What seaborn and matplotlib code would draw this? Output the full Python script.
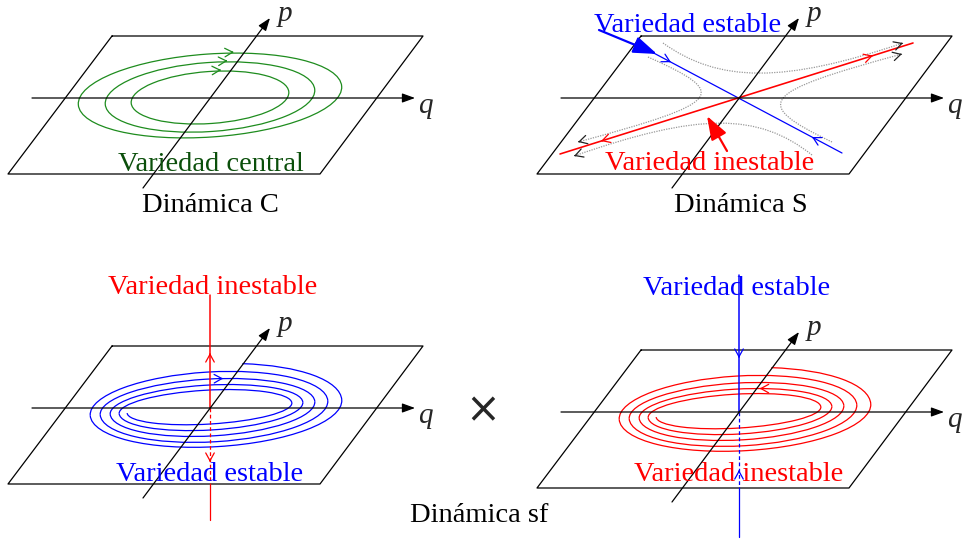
import numpy as np
import matplotlib
matplotlib.use("Agg")
import matplotlib.pyplot as plt
import seaborn as sns
from matplotlib.patches import Arc, Ellipse, PathPatch
from matplotlib.path import Path
from matplotlib.transforms import Affine2D

# ---------------- data (reference pixel units, y grows downward) ----------------
panel_dx = [0, 529, 0, 529]
panel_dy = [0, 0, 310, 314]

plane_x = [112, 423, 320, 8, 112]
plane_y = [36, 36, 174, 174, 36]
q_axis_x = [32, 415]
q_axis_y = [98, 98]
p_axis_x = [143, 270]
p_axis_y = [188, 18]
origin = (210, 98)
q_label_xy = (425, 113)
p_label_xy = (285, 21)

# Dinámica C : closed orbits
orbit_w = [264, 210, 158]
orbit_h = [83, 69, 52]
orbit_cy = [95.5, 97, 97.5]
orbit_tilt = 4
orbit_arrow_x = [237, 230, 223]

# Dinámica S : saddle
stable_x = [648, 842]
stable_y = [50, 153]
unstable_x = [560, 913]
unstable_y = [154, 43]
saddle_c = (740, 98)
branch_start_x = [663, 648, 812, 832]
branch_start_y = [43, 57, 155, 142]
branch_end_x = [903, 578, 574, 902]
branch_end_y = [43, 142, 156, 54]
branch_pull = [0.73, 0.9, 0.75, 0.88]

# Dinámica sf : spirals (relative to the origin of the panel)
spiral_right = [132, 118, 105, 93, 82]
spiral_left = [-136, -120, -110, -100, -91, -83]
spiral_top = [44, 36, 29, 23, 18]
spiral_bottom = [39, 34, 28, 22, 16]
spiral_start_x = 35
spiral_tilt = 3.5
# vertical manifold: top, plane edge, bottom
vert_top = [295, 275]
vert_edge = [484, 488]
vert_bottom = [520, 537]

BLUE = "#0000FF"
RED = "#FF0000"
GREEN = "#1E8C1E"
GREEN_TXT = "#0B4F0B"
GRAY = "#999999"
SERIF = "Liberation Serif"

sns.set_style("white")
fig = plt.figure(figsize=(9.63, 5.43), dpi=100)
ax = fig.add_axes([0, 0, 1, 1])
LW = 0.9


def head(x, y, ux, uy, color, scale=14, lw=LW):
    n = np.hypot(ux, uy)
    ux, uy = ux / n, uy / n
    ax.annotate("", xy=(x, y), xytext=(x - ux * 1.5, y - uy * 1.5),
                arrowprops=dict(arrowstyle="->,head_length=0.4,head_width=0.22", color=color,
                                lw=lw, shrinkA=0, shrinkB=0, mutation_scale=scale))


def frame(k):
    dx, dy = panel_dx[k], panel_dy[k]
    sns.lineplot(x=[v + dx for v in plane_x], y=[v + dy for v in plane_y],
                 sort=False, estimator=None, color="black", linewidth=LW, ax=ax)
    for xs, ys in ((q_axis_x, q_axis_y), (p_axis_x, p_axis_y)):
        ax.annotate("", xy=(xs[1] + dx, ys[1] + dy), xytext=(xs[0] + dx, ys[0] + dy),
                    arrowprops=dict(arrowstyle="-|>,head_length=0.55,head_width=0.2",
                                    color="black", lw=LW, shrinkA=0, shrinkB=0,
                                    mutation_scale=14))
    ax.text(q_label_xy[0] + dx, q_label_xy[1] + dy, "q", family=SERIF, style="italic",
            fontsize=21, ha="center", va="baseline")
    ax.text(p_label_xy[0] + dx, p_label_xy[1] + dy, "p", family=SERIF, style="italic",
            fontsize=21, ha="center", va="baseline")


for k in range(4):
    frame(k)

# ---- Dinámica C ----
rot_c = Affine2D().rotate_deg_around(origin[0], origin[1], -orbit_tilt)
for w, h, cy, axx in zip(orbit_w, orbit_h, orbit_cy, orbit_arrow_x):
    ax.add_patch(Ellipse((origin[0], cy), w, h, angle=-orbit_tilt, fill=False,
                         ec=GREEN, lw=LW))
    a, b = w / 2, h / 2
    xr = axx - origin[0]
    yy = cy - b * np.sqrt(max(0.0, 1 - (xr / a) ** 2))
    p1 = rot_c.transform((origin[0] + xr, yy))
    head(p1[0], p1[1] - 1, 1, -0.05, GREEN)

# ---- Dinámica S ----
sns.lineplot(x=stable_x, y=stable_y, sort=False, estimator=None, color=BLUE, linewidth=LW, ax=ax)
sns.lineplot(x=unstable_x, y=unstable_y, sort=False, estimator=None, color=RED, linewidth=LW * 1.3, ax=ax)
C = np.array(saddle_c, float)
for sx, sy, ex, ey, t in zip(branch_start_x, branch_start_y, branch_end_x, branch_end_y, branch_pull):
    P0 = np.array([sx, sy], float)
    P3 = np.array([ex, ey], float)
    P1 = P0 + t * (C - P0)
    P2 = P3 + t * (C - P3)
    path = Path([P0, P1, P2, P3], [Path.MOVETO, Path.CURVE4, Path.CURVE4, Path.CURVE4])
    ax.add_patch(PathPatch(path, fill=False, ec=GRAY, lw=LW, ls=(0, (1.0, 1.0))))
    d = P3 - P2
    head(ex, ey, d[0], d[1], "#222222")
sdir = np.array([stable_x[1] - stable_x[0], stable_y[1] - stable_y[0]], float)
udir = np.array([unstable_x[1] - unstable_x[0], unstable_y[1] - unstable_y[0]], float)
head(671, 50 + (671 - 648) * sdir[1] / sdir[0], sdir[0], sdir[1], BLUE)
head(812, 50 + (812 - 648) * sdir[1] / sdir[0], -sdir[0], -sdir[1], BLUE)
head(873, 154 + (873 - 560) * udir[1] / udir[0], udir[0], udir[1], RED)
head(601, 154 + (601 - 560) * udir[1] / udir[0], -udir[0], -udir[1], RED)
ax.annotate("", xy=(657, 54), xytext=(599, 30),
            arrowprops=dict(arrowstyle="-|>,head_length=0.9,head_width=0.32", color=BLUE,
                            lw=1.6, shrinkA=0, shrinkB=0, mutation_scale=16))
ax.annotate("", xy=(707, 116), xytext=(727, 151),
            arrowprops=dict(arrowstyle="-|>,head_length=0.9,head_width=0.32", color=RED,
                            lw=1.6, shrinkA=0, shrinkB=0, mutation_scale=16))


# ---- Dinámica sf ----
def spiral(k, color, arrow_ring, arrow_x, arrow_dir):
    cx0 = origin[0] + panel_dx[k]
    cy0 = origin[1] + panel_dy[k]
    rot = Affine2D().rotate_deg_around(cx0, cy0, -spiral_tilt)
    tr = rot + ax.transData
    for i in range(5):
        l, r = spiral_left[i], spiral_right[i]
        cx, a, b = (l + r) / 2, (r - l) / 2, spiral_top[i]
        th1 = 180
        if i == 0:
            ct = (spiral_start_x - cx) / a
            th1 = np.degrees(np.arctan2(-b * np.sqrt(1 - ct ** 2), a * ct)) % 360
        ax.add_patch(Arc((cx0 + cx, cy0), 2 * a, 2 * b, theta1=th1, theta2=360,
                         ec=color, lw=LW, transform=tr))
        l2 = spiral_left[i + 1]
        cxb, ab, bb = (l2 + r) / 2, (r - l2) / 2, spiral_bottom[i]
        ax.add_patch(Arc((cx0 + cxb, cy0), 2 * ab, 2 * bb, theta1=0, theta2=180,
                         ec=color, lw=LW, transform=tr))
    i = arrow_ring
    l, r = spiral_left[i], spiral_right[i]
    cx, a, b = (l + r) / 2, (r - l) / 2, spiral_top[i]
    pts = []
    for xr in (arrow_x - 2 * arrow_dir, arrow_x):
        yr = -b * np.sqrt(max(0.0, 1 - ((xr - cx) / a) ** 2))
        pts.append(rot.transform((cx0 + xr, cy0 + yr)))
    d = pts[1] - pts[0]
    head(pts[1][0], pts[1][1], d[0], d[1], color)


def vertical(k, idx, color, up_y, down_y):
    x = origin[0] + panel_dx[k]
    yc = origin[1] + panel_dy[k]
    sns.lineplot(x=[x, x], y=[vert_top[idx], yc], sort=False, estimator=None,
                 color=color, linewidth=LW * 1.2, ax=ax)
    ax.plot([x, x], [yc, vert_edge[idx]], color=color, lw=LW, ls=(0, (3, 2)))
    sns.lineplot(x=[x, x], y=[vert_edge[idx], vert_bottom[idx]], sort=False, estimator=None,
                 color=color, linewidth=LW, ax=ax)
    head(x, up_y, 0, -1, color)
    head(x, down_y, 0, 1, color)


spiral(2, BLUE, 2, 15, 1)
vertical(2, 0, RED, 353, 462)
spiral(3, RED, 3, 22, -1)
vertical(3, 1, BLUE, 470, 358)

# ---- texts ----
labels = [
    ("Variedad central", 211, 171, GREEN_TXT),
    ("Dinámica C", 210, 212, "black"),
    ("Variedad estable", 688, 32, BLUE),
    ("Variedad inestable", 710, 170, RED),
    ("Dinámica S", 741, 212, "black"),
    ("Variedad inestable", 213, 294, RED),
    ("Variedad estable", 210, 481, BLUE),
    ("Variedad estable", 737, 295, BLUE),
    ("Variedad inestable", 739, 481, RED),
    ("Dinámica sf", 479, 522, "black"),
]
for s, x, y, c in labels:
    ax.text(x, y, s, family=SERIF, fontsize=20.5, color=c, ha="center", va="baseline")
ax.text(483, 410, "×", family="DejaVu Sans", fontsize=30, ha="center", va="center")

ax.set_xlim(0, 963)
ax.set_ylim(543, 0)
ax.axis("off")
fig.savefig("out.png", dpi=100)
